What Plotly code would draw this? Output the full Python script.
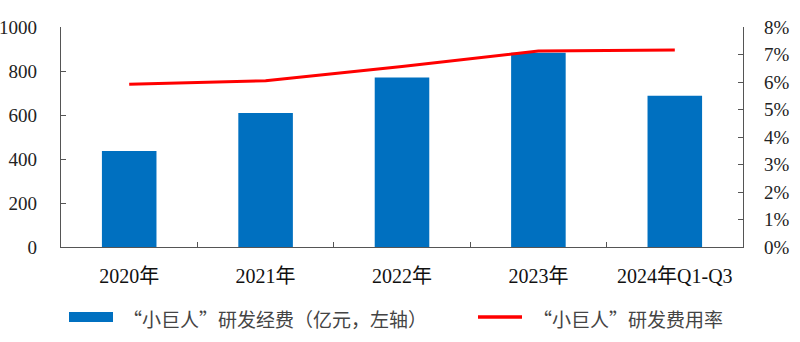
import plotly.graph_objects as go

categories = ["2020年", "2021年", "2022年", "2023年", "2024年Q1-Q3"]
rd_spend = [436, 609, 771, 883, 688]          # 亿元, left axis
rd_rate = [5.92, 6.05, 6.56, 7.13, 7.16]      # %, right axis
left_ticks = [0, 200, 400, 600, 800, 1000]
right_ticks = [0, 1, 2, 3, 4, 5, 6, 7, 8]
legend_labels = ["“小巨人”研发经费（亿元，左轴）", "“小巨人”研发费用率"]

BLUE = "#0070C0"
RED = "#FF0000"
SERIF = "Liberation Serif, Times New Roman, serif"
CJK = "Noto Sans CJK SC"

fig = go.Figure()
fig.add_trace(go.Bar(x=categories, y=rd_spend, marker=dict(color=BLUE, line=dict(width=0)),
                     width=0.4, name=legend_labels[0], yaxis="y", showlegend=False))
fig.add_trace(go.Scatter(x=categories, y=rd_rate, mode="lines", line=dict(color=RED, width=3),
                         name=legend_labels[1], yaxis="y2", showlegend=False))

fig.update_layout(
    width=800, height=342,
    margin=dict(l=61, r=57, t=27, b=95),
    paper_bgcolor="white", plot_bgcolor="white",
    xaxis=dict(type="category", range=[-0.5, 4.5], showline=True, linecolor="#555", linewidth=1.3,
               ticks="inside", tickson="boundaries", ticklen=5, tickcolor="#555",
               tickfont=dict(family=SERIF + ", " + CJK, size=20, color="#111"),
               ticklabelstandoff=11, showgrid=False, zeroline=False, automargin=False),
    yaxis=dict(range=[0, 1000], tickvals=left_ticks, showline=True, linecolor="#555", linewidth=1.3,
               ticks="inside", ticklen=5, tickcolor="#555", showgrid=False, zeroline=False,
               tickfont=dict(family=SERIF, size=19, color="#222"), ticklabelstandoff=19,
               automargin=False),
    yaxis2=dict(range=[0, 8], tickvals=right_ticks, ticktext=[f"{v}%" for v in right_ticks],
                overlaying="y", side="right", showline=True, linecolor="#555", linewidth=1.3,
                ticks="inside", ticklen=5, tickcolor="#555", showgrid=False, zeroline=False,
                tickfont=dict(family=SERIF, size=19, color="#222"), ticklabelstandoff=16,
                automargin=False),
)

# Manual legend (paper coordinates relative to plot area)
W = 800 - 61 - 57
H = 342 - 27 - 95
def px(x):
    return (x - 61) / W
def py(y):
    return (342 - 95 - y) / H

fig.add_shape(type="rect", xref="paper", yref="paper", x0=px(69), x1=px(113), y0=py(322), y1=py(312),
              fillcolor=BLUE, line=dict(width=0))
fig.add_shape(type="line", xref="paper", yref="paper", x0=px(478), x1=px(522), y0=py(317), y1=py(317),
              line=dict(color=RED, width=3.5))
fig.add_annotation(xref="paper", yref="paper", x=px(121), y=py(318), text=legend_labels[0],
                   showarrow=False, xanchor="left", yanchor="middle",
                   font=dict(family=CJK, size=19, color="#444"))
fig.add_annotation(xref="paper", yref="paper", x=px(531), y=py(318), text=legend_labels[1],
                   showarrow=False, xanchor="left", yanchor="middle",
                   font=dict(family=CJK, size=19, color="#444"))

fig.write_html("out.html")
